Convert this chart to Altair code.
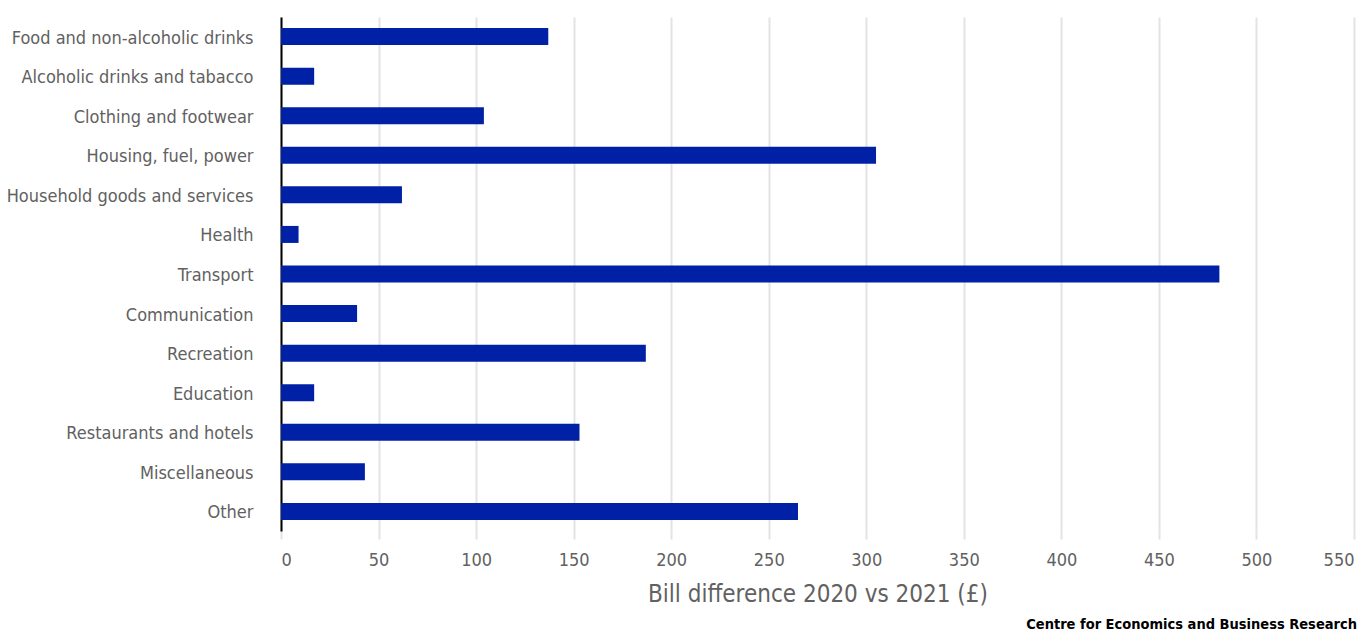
import altair as alt
import pandas as pd

categories = [
    "Food and non-alcoholic drinks",
    "Alcoholic drinks and tabacco",
    "Clothing and footwear",
    "Housing, fuel, power",
    "Household goods and services",
    "Health",
    "Transport",
    "Communication",
    "Recreation",
    "Education",
    "Restaurants and hotels",
    "Miscellaneous",
    "Other",
]
values = [137, 17, 104, 305, 62, 9, 481, 39, 187, 17, 153, 43, 265]
x_ticks = list(range(0, 551, 50))

df = pd.DataFrame({"category": categories, "value": values})

FONT = "DejaVu Sans Condensed, sans-serif"
W, H = 1073, 514

bars = alt.Chart(df).mark_bar(color="#0021A5", size=17).encode(
    y=alt.Y("category:N", sort=categories, title=None,
            scale=alt.Scale(paddingInner=0.57, paddingOuter=0.28),
            axis=alt.Axis(domainColor="#000000", domainWidth=2, ticks=False,
                          labelFontSize=18, labelColor="#616161", labelFont=FONT,
                          labelPadding=28, labelLimit=400, labelOffset=2, grid=False)),
    x=alt.X("value:Q", title="Bill difference 2020 vs 2021 (£)",
            scale=alt.Scale(domain=[0, 550], nice=False),
            axis=alt.Axis(values=x_ticks, domain=False, grid=True, gridColor="#E3E3E3",
                          gridWidth=2, tickColor="#E3E3E3", tickWidth=2, tickSize=8,
                          labelFontSize=18, labelColor="#616161", labelFont=FONT,
                          labelPadding=12, titleFont=FONT, titleFontSize=24,
                          titleFontWeight="normal", titleColor="#616161", titlePadding=13)),
)

source = alt.Chart(pd.DataFrame({"t": ["Centre for Economics and Business Research"]})).mark_text(
    align="right", baseline="bottom", font=FONT, fontSize=14.5, fontWeight="bold", color="#000000"
).encode(text="t:N", x=alt.value(W + 3), y=alt.value(H + 101))

chart = alt.layer(bars, source).properties(
    width=W, height=H,
    autosize=alt.AutoSizeParams(type="none"),
    padding={"left": 281, "top": 17, "right": 16, "bottom": 102},
).configure(background="white").configure_view(stroke=None)

chart.save("out.html", embed_options={"renderer": "svg", "actions": False})
